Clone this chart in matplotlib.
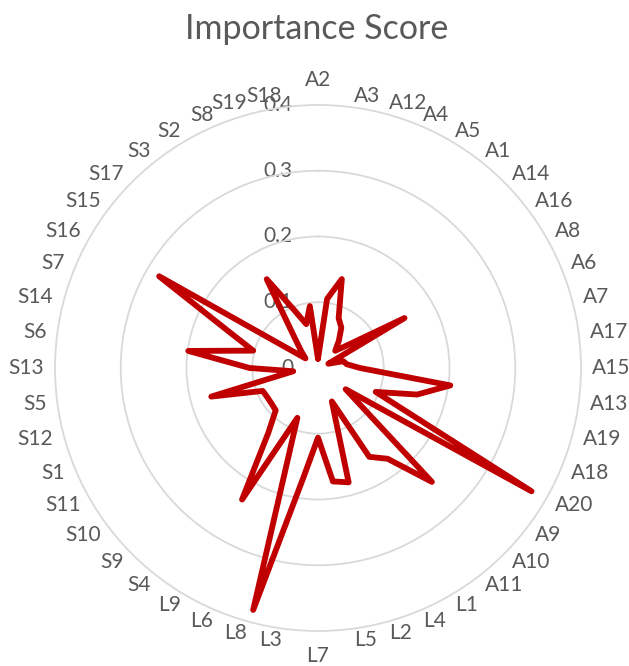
import numpy as np
import matplotlib
matplotlib.use('Agg')
import matplotlib.pyplot as plt

plt.rcParams['font.family'] = ['Lato', 'DejaVu Sans']

# categories clockwise from the top
categories = ['A2', 'A3', 'A12', 'A4', 'A5', 'A1', 'A14', 'A16', 'A8', 'A6',
              'A7', 'A17', 'A15', 'A13', 'A19', 'A18', 'A20', 'A9', 'A10', 'A11',
              'L1', 'L4', 'L2', 'L5', 'L7', 'L3', 'L8', 'L6', 'L9',
              'S4', 'S9', 'S10', 'S11', 'S1', 'S12', 'S5', 'S13', 'S6', 'S14',
              'S7', 'S16', 'S15', 'S17', 'S3', 'S2', 'S8', 'S19', 'S18']
importance = [0.014, 0.106, 0.140, 0.082, 0.071, 0.052, 0.037, 0.058, 0.152, 0.017,
              0.040, 0.044, 0.064, 0.203, 0.156, 0.095, 0.375, 0.053, 0.245, 0.174,
              0.156, 0.055, 0.180, 0.174, 0.106, 0.167, 0.381, 0.082, 0.231,
              0.124, 0.091, 0.089, 0.089, 0.091, 0.168, 0.038, 0.104, 0.199, 0.102,
              0.149, 0.279, 0.024, 0.036, 0.059, 0.156, 0.096, 0.069, 0.095]
rticks = [0, 0.1, 0.2, 0.3, 0.4]

grey = '#595959'
grid_c = '#d9d9d9'

fig = plt.figure(figsize=(6.29, 6.66), dpi=100)
ax = fig.add_axes([55/629, 35/666, 526/629, 526/666], projection='polar')
ax.set_theta_zero_location('N')
ax.set_theta_direction(-1)

n = len(categories)
theta = np.arange(n) * 2 * np.pi / n
ax.plot(np.append(theta, theta[0]), importance + importance[:1], color='#c00000',
        lw=4.2, solid_joinstyle='round', solid_capstyle='round', zorder=3)

ax.set_ylim(0, 0.4)
ax.set_yticks(rticks[1:-1])
ax.set_yticklabels([])
ax.set_xticks([])
ax.yaxis.grid(True, color=grid_c, lw=1.3)
ax.xaxis.grid(False)
ax.spines['polar'].set_color(grid_c)
ax.spines['polar'].set_linewidth(1.3)

# radial value labels, left of the vertical axis
for v in rticks:
    ax.annotate(f'{v:g}', xy=(0, v), xytext=(-25, 0), textcoords='offset pixels',
                ha='right', va='center', fontsize=15, color=grey, zorder=1)

# category labels around the outside
gap = 11
for t, lab in zip(theta, categories):
    s, c = np.sin(t), np.cos(t)
    if abs(s) < 0.05:
        ha = 'center'
        va = 'bottom' if c > 0 else 'top'
        off = (0, (gap + 4) * np.sign(c))
    else:
        ha = 'left' if s > 0 else 'right'
        va = 'center'
        off = (gap * s, gap * c)
    ax.annotate(lab, xy=(t, 0.4), xytext=off, textcoords='offset pixels',
                ha=ha, va=va, fontsize=15, color=grey, annotation_clip=False)

fig.text(0.503, 1 - 29/666, 'Importance Score', ha='center', va='center',
         fontsize=24.5, color=grey)

fig.savefig('out.png', dpi=100)
